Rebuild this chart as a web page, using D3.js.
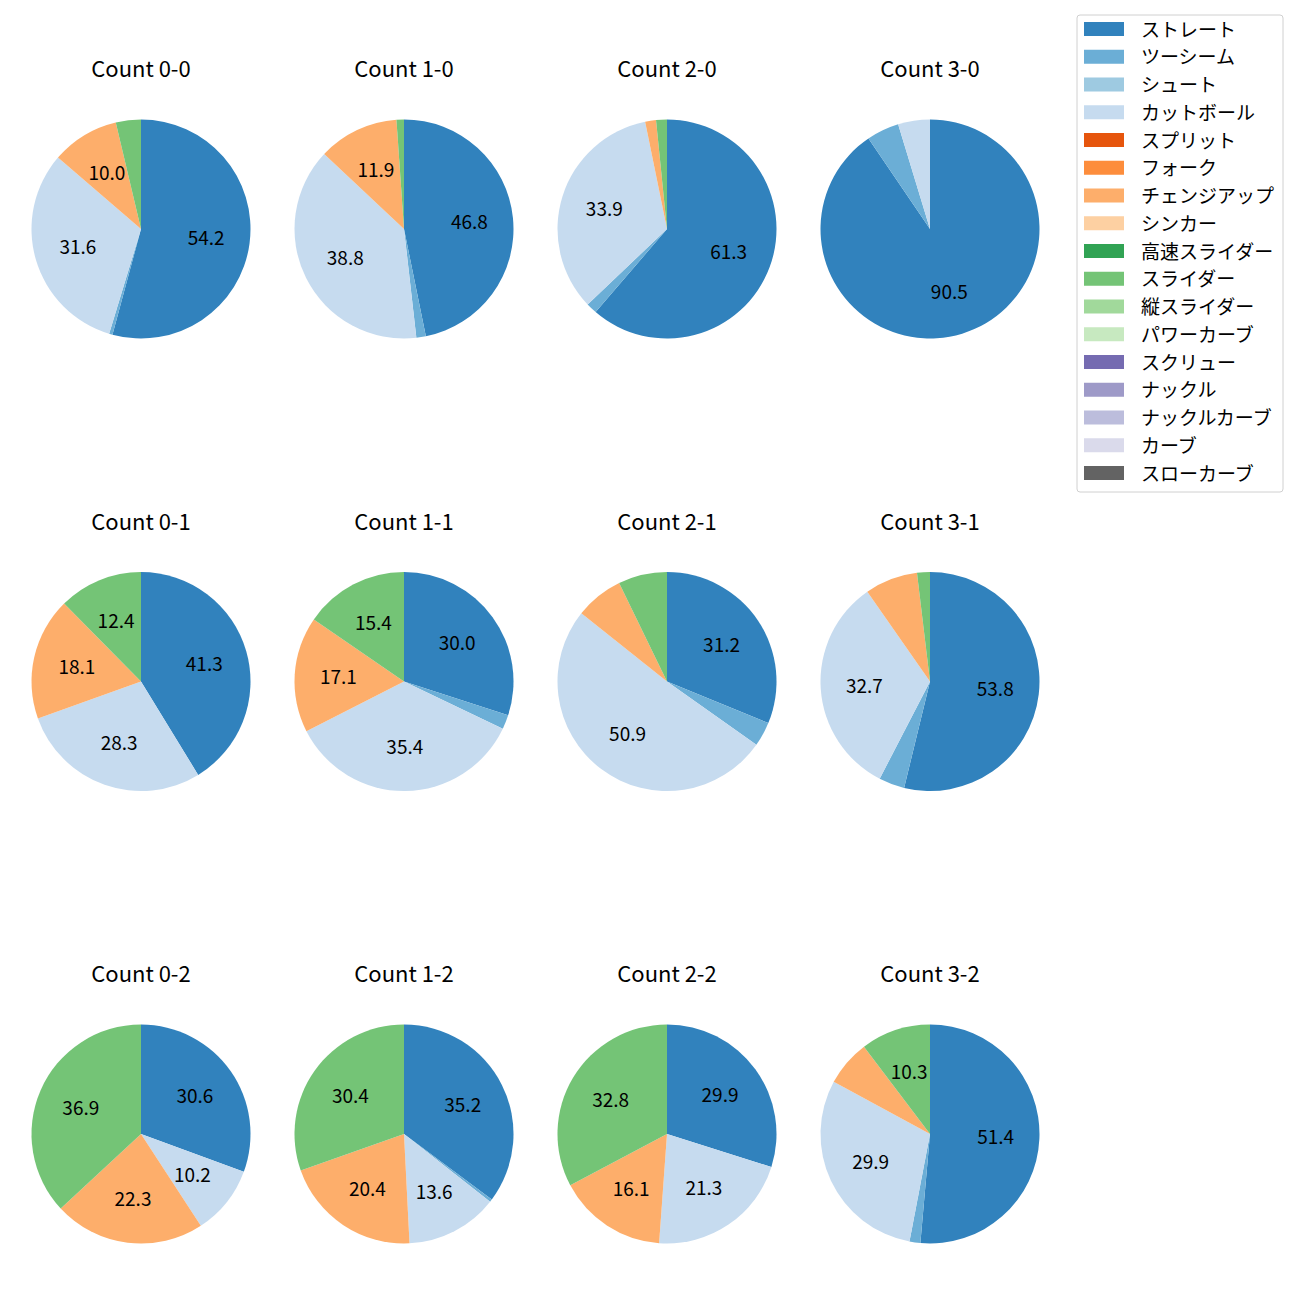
<!DOCTYPE html>
<html><head><meta charset="utf-8">
<script src="https://cdn.jsdelivr.net/npm/d3@7"></script>
<style>body{margin:0;background:#fff;} text{font-family:"Noto Sans CJK JP","Noto Sans",sans-serif;}</style>
</head><body>
<svg id="chart" width="1300" height="1300"></svg>
<script>
const pitchTypes = ["ストレート","ツーシーム","シュート","カットボール","スプリット","フォーク","チェンジアップ","シンカー","高速スライダー","スライダー","縦スライダー","パワーカーブ","スクリュー","ナックル","ナックルカーブ","カーブ","スローカーブ"];
const pitchColors = ["#3182bd","#6baed6","#9ecae1","#c6dbef","#e6550d","#fd8d3c","#fdae6b","#fdd0a2","#31a354","#74c476","#a1d99b","#c7e9c0","#756bb1","#9e9ac8","#bcbddc","#dadaeb","#636363"];
const countLabels = ["0-0","1-0","2-0","3-0","0-1","1-1","2-1","3-1","0-2","1-2","2-2","3-2"];
// values per count (same order as countLabels)
const straight = [54.2,46.8,61.3,90.5,41.3,30.0,31.2,53.8,30.6,35.2,29.9,51.4];
const twoSeam  = [0.5,1.4,1.6,4.8,0,2.1,3.6,3.8,0,0.4,0,1.6];
const cutter   = [31.6,38.8,33.9,4.7,28.3,35.4,50.9,32.7,10.2,13.6,21.3,29.9];
const changeup = [10.0,11.9,1.6,0,18.1,17.1,7.1,7.8,22.3,20.4,16.1,6.8];
const slider   = [3.7,1.1,1.6,0,12.4,15.4,7.2,1.9,36.9,30.4,32.8,10.3];

const seriesByType = {"ストレート":straight,"ツーシーム":twoSeam,"カットボール":cutter,"チェンジアップ":changeup,"スライダー":slider};

const svg = d3.select("#chart");
const color = d3.scaleOrdinal().domain(pitchTypes).range(pitchColors);
const colX = d3.scalePoint().domain([0,1,2,3]).range([141,930]);
const rowY = d3.scalePoint().domain([0,1,2]).range([229,1134]);
const R = 109.5;
const pie = d3.pie().sort(null).value(d=>d.v);
const arc = d3.arc().innerRadius(0).outerRadius(R);
const labelArc = d3.arc().innerRadius(R*0.6).outerRadius(R*0.6);

countLabels.forEach((c,i)=>{
  const col = i%4, row = Math.floor(i/4);
  const cx = colX(col), cy = rowY(row);
  const data = pitchTypes.map(p=>({p, v: seriesByType[p] ? seriesByType[p][i] : 0}));
  const g = svg.append("g").attr("transform",`translate(${cx},${cy})`);
  const arcs = pie(data);
  g.selectAll("path").data(arcs.filter(a=>a.data.v>0)).join("path")
    .attr("d",arc).attr("fill",d=>color(d.data.p));
  g.selectAll("text.lbl").data(arcs.filter(a=>a.data.v>=10)).join("text")
    .attr("class","lbl")
    .attr("transform",d=>{const [x,y]=labelArc.centroid(d); return `translate(${x},${y-1.5})`;})
    .attr("text-anchor","middle").attr("dominant-baseline","central")
    .attr("font-size",19).attr("fill","#000")
    .text(d=>d.data.v.toFixed(1));
  svg.append("text").attr("x",cx).attr("y",cy-162)
    .attr("text-anchor","middle").attr("dominant-baseline","central")
    .attr("font-size",22).attr("fill","#000").text("Count "+c);
});

// legend
const lg = svg.append("g");
lg.append("rect").attr("x",1077).attr("y",15).attr("width",206).attr("height",477)
  .attr("rx",3).attr("fill","#fff").attr("stroke","#d0d0d0").attr("stroke-width",1);
const ly = d3.scaleLinear().domain([0,pitchTypes.length-1]).range([29,473]);
pitchTypes.forEach((p,k)=>{
  lg.append("rect").attr("x",1084).attr("y",ly(k)-7).attr("width",40).attr("height",14).attr("fill",color(p));
  lg.append("text").attr("x",1141).attr("y",ly(k)-1).attr("dominant-baseline","central")
    .attr("font-size",19).attr("fill","#000").text(p);
});
</script>
</body></html>
